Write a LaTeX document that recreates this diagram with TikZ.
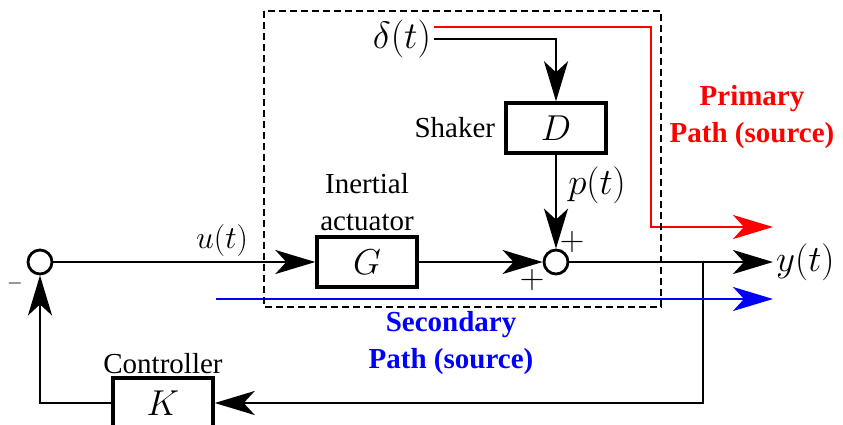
\RequirePackage{fix-cm}
\documentclass[tikz,border=0pt]{standalone}
\usepackage[no-math]{fontspec}
\setmainfont{Liberation Serif}
\usetikzlibrary{positioning, arrows.meta}
\definecolor{pathPrimary}{HTML}{FF0000}
\definecolor{pathSecondary}{HTML}{0000FF}

\begin{document}
\begin{tikzpicture}[x=1pt, y=-1pt,
  box/.style={draw, line width=3.4pt, minimum width=100pt, minimum height=50pt, inner sep=0pt, font=\fontsize{36}{40}\selectfont},
  junction/.style={draw, circle, line width=2.8pt, minimum size=24pt, inner sep=0pt},
  lbl/.style={font=\fontsize{29}{37}\selectfont, align=center, inner sep=0pt},
  src/.style={font=\fontsize{29}{37}\selectfont\bfseries, align=center, inner sep=0pt},
  sig/.style={inner sep=0pt},
  arr/.style={-{Stealth[length=40pt, width=24pt, inset=11pt]}, line width=2.8pt},
  dashbox/.style={line width=2.2pt, dash pattern=on 7pt off 4pt}
]
\useasboundingbox (0,0) rectangle (843,424);

\node[box] (g) at (367,262) {$G$};
\node[box] (d) at (556,128) {$D$};
\node[box] (k) at (163,403) {$K$};
\node[junction] (sum) at (556,262) {};
\node[junction] (fb) at (40,262) {};

\node[lbl, left=9pt of d] (shaker) {Shaker};
\node[lbl, above=4pt of g] (actuator) {Inertial\\actuator};
\node[lbl, above=2pt of k] (controller) {Controller};

\node[inner sep=3pt, font=\fontsize{38}{40}\selectfont] (delta) at (402,39) {$\delta(t)$};
\node[sig, font=\fontsize{37}{40}\selectfont] (plbl) at (597,185) {$p(t)$};
\node[sig, font=\fontsize{32}{36}\selectfont] (ulbl) at (222,240) {$u(t)$};
\node[anchor=west, inner sep=3pt, font=\fontsize{37}{40}\selectfont] (ylbl) at (773,262) {$y(t)$};
\node[sig, font=\fontsize{34}{36}\selectfont] (plusa) at (572,242) {$+$};
\node[sig, font=\fontsize{34}{36}\selectfont] (plusb) at (532,280) {$+$};
\node[sig, font=\fontsize{20}{24}\selectfont] (minus) at (15,283) {$-$};

\node[src, text=pathPrimary] (primary) at (752,117) {Primary\\Path (source)};
\node[src, text=pathSecondary] (secondary) at (451,343) {Secondary\\Path (source)};

\coordinate (redturn) at (651,227);
\coordinate (redend) at (773,227);
\coordinate (bluestart) at (216,299);
\coordinate (blueend) at (773,299);
\coordinate (branch) at (703,262);

\draw[arr] (delta.east) -| (d);
\draw[arr] (d) -- (sum);
\draw[arr] (fb) -- (g);
\draw[arr] (g) -- (sum);
\draw[arr] (sum) -- (ylbl);
\draw[arr] (branch) |- (k);
\draw[arr] (k) -| (fb);

\draw[arr, pathPrimary] ([yshift=12pt]delta.east) -| (redturn) -- (redend);
\draw[arr, pathSecondary] (bluestart) -- (blueend);

\draw[dashbox] (264,11) rectangle (661,307);
\end{tikzpicture}
\end{document}
